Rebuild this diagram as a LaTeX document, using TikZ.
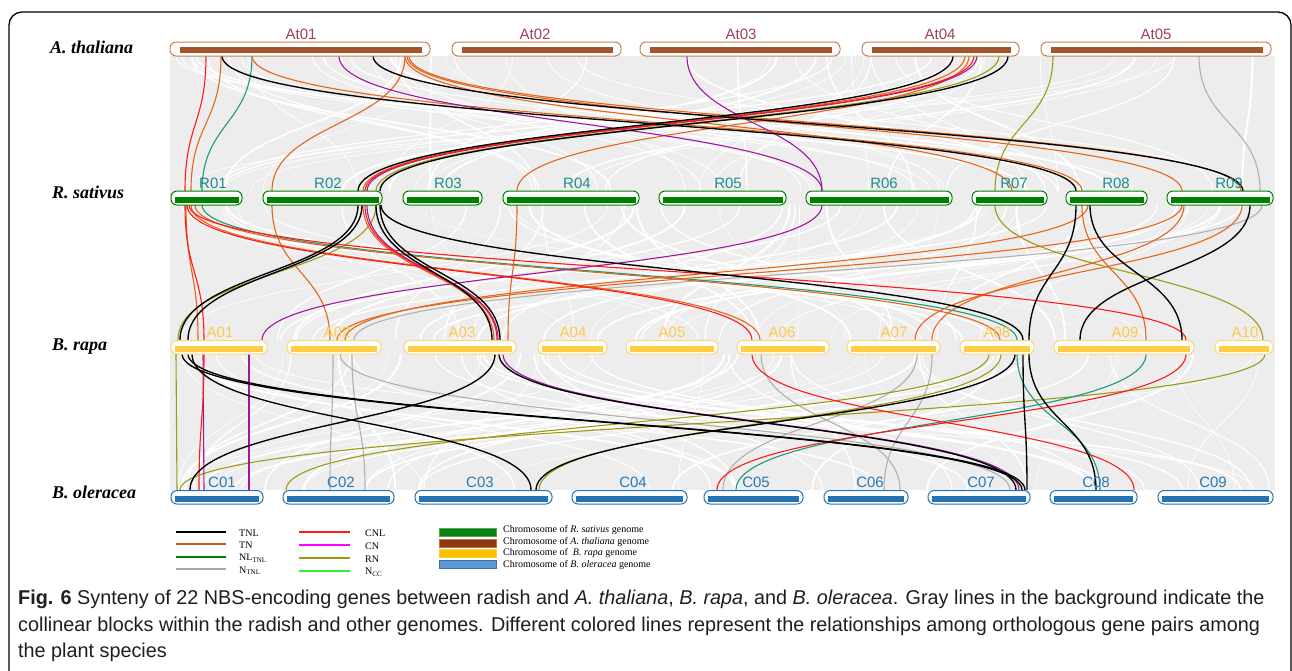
\documentclass[tikz,border=0pt]{standalone}
\usepackage{fontspec}
\setmainfont{Liberation Serif}
\newfontfamily\chrfont{Liberation Sans}
\newfontfamily\capfont[FakeStretch=0.99]{Liberation Sans}
\definecolor{tnc}{HTML}{E5661B}
\definecolor{cnlc}{HTML}{FF1A1A}
\definecolor{cnc}{HTML}{A0169E}
\definecolor{rnc}{HTML}{9E9A12}
\definecolor{nlc}{HTML}{1C9B78}
\definecolor{ntc}{HTML}{B0B0B0}
\definecolor{bgc}{HTML}{EDEDED}
\definecolor{atbarc}{HTML}{A5552A}
\definecolor{atoutc}{HTML}{C4805A}
\definecolor{atlabc}{HTML}{A2405A}
\definecolor{rbarc}{HTML}{008000}
\definecolor{rlabc}{HTML}{1E8C8C}
\definecolor{abarc}{HTML}{FFCC44}
\definecolor{aoutc}{HTML}{FFD772}
\definecolor{alabc}{HTML}{FFC94A}
\definecolor{cbarc}{HTML}{2474B4}
\definecolor{clabc}{HTML}{2A78B6}
\definecolor{legtn}{HTML}{C05A1E}
\definecolor{legnl}{HTML}{0A7A0A}
\definecolor{legcn}{HTML}{FF00FF}
\definecolor{legrn}{HTML}{9A9A10}
\definecolor{legnc}{HTML}{33EE33}
\definecolor{legntl}{HTML}{AAAAAA}
\definecolor{boxg}{HTML}{0A8010}
\definecolor{boxb}{HTML}{8B3A0F}
\definecolor{boxy}{HTML}{FFC000}
\definecolor{boxbl}{HTML}{5B9BD5}
\definecolor{boxblo}{HTML}{41719C}
\newcommand{\lnk}[4]{\foreach \a/\b in {#4}{\draw[#1] (\a,#2) .. controls (\a,{(#2+#3)/2}) and (\b,{(#2+#3)/2}) .. (\b,#3);}}
\begin{document}
\begin{tikzpicture}[x=1pt,y=-1pt,
  lk/.style={line width=1.1pt},
  tnl/.style={lk, black, line width=1.35pt},
  tn/.style={lk, tnc},
  cnl/.style={lk, cnlc},
  cn/.style={lk, cnc},
  rn/.style={lk, rnc},
  nl/.style={lk, nlc},
  nt/.style={lk, ntc},
  sp/.style={anchor=west, inner sep=0pt, font=\fontsize{18}{18}\selectfont\bfseries\itshape},
  chrlab/.style={inner sep=0pt, font=\chrfont\fontsize{15}{15}\selectfont},
  atbox/.style={draw=atoutc, fill=white, line width=1pt, rounded corners=6pt},
  rbox/.style={draw=rbarc, fill=white, line width=1pt, rounded corners=6pt},
  abox/.style={draw=aoutc, fill=white, line width=1pt, rounded corners=6pt},
  cbox/.style={draw=cbarc, fill=white, line width=1pt, rounded corners=6pt},
  legtxt/.style={anchor=west, inner sep=0pt, font=\fontsize{10}{10}\selectfont},
  legline/.style={line width=2pt},
  captext/.style={anchor=west, inner sep=0pt, text=black!88, font=\capfont\fontsize{20}{20}\selectfont}
]
\useasboundingbox (0,0) rectangle (1292,670);
\fill[white] (0,0) rectangle (1292,670);
\begin{scope}
\clip (0,0) rectangle (1292,670);
\draw[line width=1.3pt, rounded corners=13pt] (9,12) rectangle (1291,720);
\end{scope}

% background collinear blocks
\fill[bgc] (170,56) rectangle (1275,490);
\pgfmathsetseed{11}
\foreach \ya/\yb in {56/191, 205/340, 354/490}{
  \foreach \i in {1,...,55}{
    \pgfmathsetmacro\xa{175+rnd*1095}
    \pgfmathsetmacro\xb{175+rnd*1095}
    \pgfmathsetmacro\w{0.4+rnd*1.6}
    \pgfmathsetmacro\ym{(\ya+\yb)/2}
    \draw[white, line width=\w pt] (\xa,\ya) .. controls (\xa,\ym) and (\xb,\ym) .. (\xb,\yb);
  }
}

% At -> R
\lnk{nt}{56}{191}{1199/1260}
\lnk{rn}{56}{191}{1053/995, 999/376}
\lnk{nl}{56}{191}{252/202}
\lnk{tn}{56}{191}{221/191, 252/1082, 405/272, 405/1012, 407/1182, 409/1241, 965/363, 969/517}
\lnk{cn}{56}{191}{339/822, 687/822, 977/367}
\lnk{cnl}{56}{191}{206/185, 974/365}
\lnk{tnl}{56}{191}{222/1076, 373/1243, 953/358, 1008/380}

% R -> A
\lnk{nt}{205}{340}{1262/354}
\lnk{rn}{205}{340}{995/1263, 376/178}
\lnk{nl}{205}{340}{202/1017}
\lnk{tn}{205}{340}{186/198, 191/760, 195/1000, 272/330, 363/494, 517/508, 1184/932, 1242/915, 1082/1146, 1182/337, 1088/345}
\lnk{cn}{205}{340}{822/262, 367/498}
\lnk{cnl}{205}{340}{185/204, 187/752, 189/1186, 365/497}
\lnk{tnl}{205}{340}{358/180, 362/188, 376/492, 380/500, 381/1023, 1076/1029, 1090/1182, 1250/1080}

% A -> C
\lnk{nt}{354}{490}{333/330, 352/365, 340/1010, 761/900, 917/723, 932/884}
\lnk{rn}{354}{490}{176/177, 1265/180, 989/286, 1001/539}
\lnk{nl}{354}{490}{1017/1100, 1146/736}
\lnk{cn}{354}{490}{203/204, 249/249, 503/1019}
\lnk{cnl}{354}{490}{204/199, 752/1134, 1186/717}
\lnk{tnl}{354}{490}{182/1022, 188/1025, 192/531, 495/190, 499/1016, 1015/536, 1023/1027, 1029/1096}

% chromosomes
\foreach \n/\a/\b/\l in {At01/170/430/301, At02/452/621/535, At03/640/840/741, At04/862/1019/940, At05/1041/1271/1156}{
  \draw[atbox] (\a,42) rectangle (\b,56);
  \fill[atbarc] (\a+10,47) rectangle (\b-8,53);
  \node[chrlab, text=atlabc] (l\n) at (\l,34) {\n};
}
\foreach \n/\a/\b/\l in {R01/171/242/213, R02/263/382/328, R03/403/482/448, R04/503/639/577, R05/659/786/728, R06/806/952/884, R07/972/1047/1014, R08/1066/1147/1116, R09/1167/1273/1229}{
  \draw[rbox] (\a,191) rectangle (\b,205);
  \fill[rbarc] (\a+3.5,196.5) rectangle (\b-3.5,202.5);
  \node[chrlab, text=rlabc] (l\n) at (\l,183) {\n};
}
\foreach \n/\a/\b/\l in {A01/171/267/220, A02/287/381/337, A03/404/516/462, A04/538/607/573, A05/626/718/672, A06/737/829/782, A07/847/940/894, A08/960/1034/997, A09/1054/1194/1125, A10/1215/1273/1245}{
  \draw[abox] (\a,340.5) rectangle (\b,354);
  \fill[abarc] (\a+4,345.5) rectangle (\b-4,351.5);
  \node[chrlab, text=alabc] (l\n) at (\l,332) {\n};
}
\foreach \n/\a/\b/\l in {C01/171/263/222, C02/283/394/341, C03/415/552/480, C04/572/687/633, C05/704/803/756, C06/824/908/870, C07/928/1030/981, C08/1050/1137/1096, C09/1158/1273/1213}{
  \draw[cbox] (\a,490.5) rectangle (\b,504);
  \fill[cbarc] (\a+4,495.5) rectangle (\b-4,501.5);
  \node[chrlab, text=clabc] (l\n) at (\l,482) {\n};
}

% species
\node[sp] (spAt) at (50,47) {A. thaliana};
\node[sp] (spR) at (52,192) {R. sativus};
\node[sp] (spA) at (52,347) {B. rapa};
\node[sp] (spC) at (52,492) {B. oleracea};

% legend
\foreach \y/\c/\t in {531.5/black/TNL, 544/legtn/TN, 556.7/legnl/{NL\textsubscript{TNL}}, 569/legntl/{N\textsubscript{TNL}}}{
  \draw[legline, \c] (176,\y) -- (226,\y);
  \node[legtxt] at (239,\y+1.5) {\t};
}
\foreach \y/\c/\t in {531.5/cnlc/CNL, 545/legcn/CN, 557.7/legrn/RN, 570.5/legnc/{N\textsubscript{CC}}}{
  \draw[legline, \c] (299,\y) -- (350,\y);
  \node[legtxt] at (365,\y+1.5) {\t};
}
\filldraw[fill=boxg, draw=boxg!70] (439,528.5) rectangle (496,536.5);
\filldraw[fill=boxb, draw=boxb!70] (439,539) rectangle (496,547);
\filldraw[fill=boxy, draw=boxy!80] (439,549.5) rectangle (496,557.5);
\filldraw[fill=boxbl, draw=boxblo] (439,560) rectangle (496,568);
\node[legtxt] (lg1) at (503,530.5) {Chromosome of \textit{R. sativus} genome};
\node[legtxt] (lg2) at (503,542) {Chromosome of \textit{A. thaliana} genome};
\node[legtxt] (lg3) at (503,553.5) {Chromosome of \ \textit{B. rapa} genome};
\node[legtxt] (lg4) at (503,565.5) {Chromosome of \textit{B. oleracea} genome};

% caption
\node[captext] (cap1) at (18,599) {\textbf{Fig. 6} Synteny of 22 NBS-encoding genes between radish and \textit{A. thaliana}, \textit{B. rapa}, and \textit{B. oleracea}. Gray lines in the background indicate the};
\node[captext] (cap2) at (18,626) {collinear blocks within the radish and other genomes. Different colored lines represent the relationships among orthologous gene pairs among};
\node[captext] (cap3) at (18,652) {the plant species};
\end{tikzpicture}
\end{document}
